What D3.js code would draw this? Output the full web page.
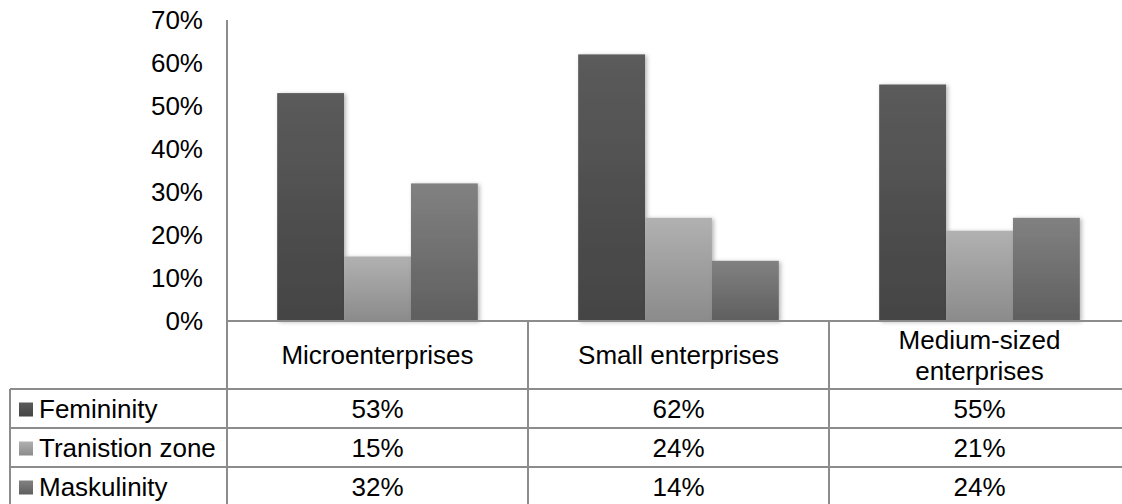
<!DOCTYPE html>
<html>
<head>
<meta charset="utf-8">
<script src="https://cdn.jsdelivr.net/npm/d3@7"></script>
<style>
  html, body { margin: 0; padding: 0; background: #fff; }
  svg { display: block; font-family: "Liberation Sans", Arial, sans-serif; }
</style>
</head>
<body>
<svg id="chart" width="1122" height="504"></svg>
<script>
// Enterprise size categories and the share of each culture type
const categories = ["Microenterprises", "Small enterprises", "Medium-sized enterprises"];
const categoryLines = [["Microenterprises"], ["Small enterprises"], ["Medium-sized", "enterprises"]];
const seriesNames = ["Femininity", "Tranistion zone", "Maskulinity"];
const femininity = [0.53, 0.62, 0.55];
const transitionZone = [0.15, 0.24, 0.21];
const maskulinity = [0.32, 0.14, 0.24];
const yTicks = [0, 0.1, 0.2, 0.3, 0.4, 0.5, 0.6, 0.7];

const seriesValues = [femininity, transitionZone, maskulinity];
const seriesColors = [
  { top: "#5b5b5b", bottom: "#444444" },
  { top: "#b1b1b1", bottom: "#8b8b8b" },
  { top: "#818181", bottom: "#5f5f5f" }
];

const svg = d3.select("#chart");
const gridColor = "#8c8c8c";
const fontSize = 26;

// Layout
const plotLeft = 227, plotRight = 1130;
const yTop = 20, yBase = 321;
const tableLeft = 10;
const headerBottom = 389, rowH = 39;

const x = d3.scaleBand().domain(categories).range([plotLeft, plotRight]).padding(0);
const xs = d3.scaleBand().domain(seriesNames).range([0, x.bandwidth()])
  .paddingInner(0).paddingOuter(0.75);
const y = d3.scaleLinear().domain([0, 0.7]).range([yBase, yTop]);

// Gradients and shadow
const defs = svg.append("defs");
seriesColors.forEach((c, i) => {
  const g = defs.append("linearGradient").attr("id", "grad" + i)
    .attr("x1", 0).attr("y1", 0).attr("x2", 0).attr("y2", 1);
  g.append("stop").attr("offset", "0%").attr("stop-color", c.top);
  g.append("stop").attr("offset", "100%").attr("stop-color", c.bottom);
});
const sh = defs.append("filter").attr("id", "shadow")
  .attr("x", "-10%").attr("y", "-10%").attr("width", "130%").attr("height", "130%");
sh.append("feDropShadow").attr("dx", 2).attr("dy", 1).attr("stdDeviation", 2)
  .attr("flood-color", "#000").attr("flood-opacity", 0.28);

// Bars
const groups = svg.append("g").selectAll("g")
  .data(categories)
  .join("g")
  .attr("transform", d => `translate(${x(d)},0)`);

groups.selectAll("rect")
  .data((d, ci) => seriesNames.map((s, si) => ({ s, si, v: seriesValues[si][ci] })))
  .join("rect")
  .attr("x", d => xs(d.s))
  .attr("y", d => y(d.v))
  .attr("width", xs.bandwidth())
  .attr("height", d => yBase - y(d.v))
  .attr("fill", d => `url(#grad${d.si})`)
  .attr("filter", "url(#shadow)");

// Y axis labels
const yAxis = d3.axisLeft(y).tickValues(yTicks).tickFormat(d3.format(".0%"))
  .tickSize(0).tickPadding(24);
const yg = svg.append("g").attr("transform", `translate(${plotLeft},0)`).call(yAxis);
yg.select(".domain").remove();
yg.selectAll("text").attr("font-size", fontSize).attr("fill", "#000")
  .attr("font-family", "Liberation Sans, Arial, sans-serif");

// Axis and table lines
const lines = svg.append("g").attr("stroke", gridColor).attr("stroke-width", 2).attr("fill", "none");
const tableBottom = headerBottom + rowH * seriesNames.length;
lines.append("line").attr("x1", plotLeft).attr("x2", plotLeft).attr("y1", yTop).attr("y2", tableBottom);
lines.append("line").attr("x1", plotLeft).attr("x2", 1122).attr("y1", yBase).attr("y2", yBase);
categories.forEach((c, i) => {
  if (i > 0) {
    lines.append("line").attr("x1", x(c)).attr("x2", x(c)).attr("y1", yBase).attr("y2", tableBottom);
  }
});
for (let r = 0; r <= seriesNames.length; r++) {
  const yy = headerBottom + r * rowH;
  lines.append("line").attr("x1", tableLeft).attr("x2", 1122).attr("y1", yy).attr("y2", yy);
}
lines.append("line").attr("x1", tableLeft).attr("x2", tableLeft).attr("y1", headerBottom).attr("y2", tableBottom);

// Category headers
const header = svg.append("g").attr("font-size", fontSize).attr("fill", "#000").attr("text-anchor", "middle");
categories.forEach((c, i) => {
  const lns = categoryLines[i];
  const cx = x(c) + x.bandwidth() / 2;
  const cy = (yBase + headerBottom) / 2;
  const lh = 31;
  lns.forEach((t, k) => {
    header.append("text")
      .attr("x", cx)
      .attr("y", cy + (k - (lns.length - 1) / 2) * lh)
      .attr("dy", "0.35em")
      .text(t);
  });
});

// Data table rows with legend keys
const rows = svg.append("g").attr("font-size", fontSize).attr("fill", "#000");
seriesNames.forEach((s, si) => {
  const cy = headerBottom + si * rowH + rowH / 2;
  rows.append("rect").attr("x", 19).attr("y", cy - 6).attr("width", 14).attr("height", 14)
    .attr("fill", `url(#grad${si})`);
  rows.append("text").attr("x", 39).attr("y", cy).attr("dy", "0.35em").text(s);
  categories.forEach((c, ci) => {
    rows.append("text")
      .attr("x", x(c) + x.bandwidth() / 2)
      .attr("y", cy)
      .attr("dy", "0.35em")
      .attr("text-anchor", "middle")
      .text(d3.format(".0%")(seriesValues[si][ci]));
  });
});
</script>
</body>
</html>
